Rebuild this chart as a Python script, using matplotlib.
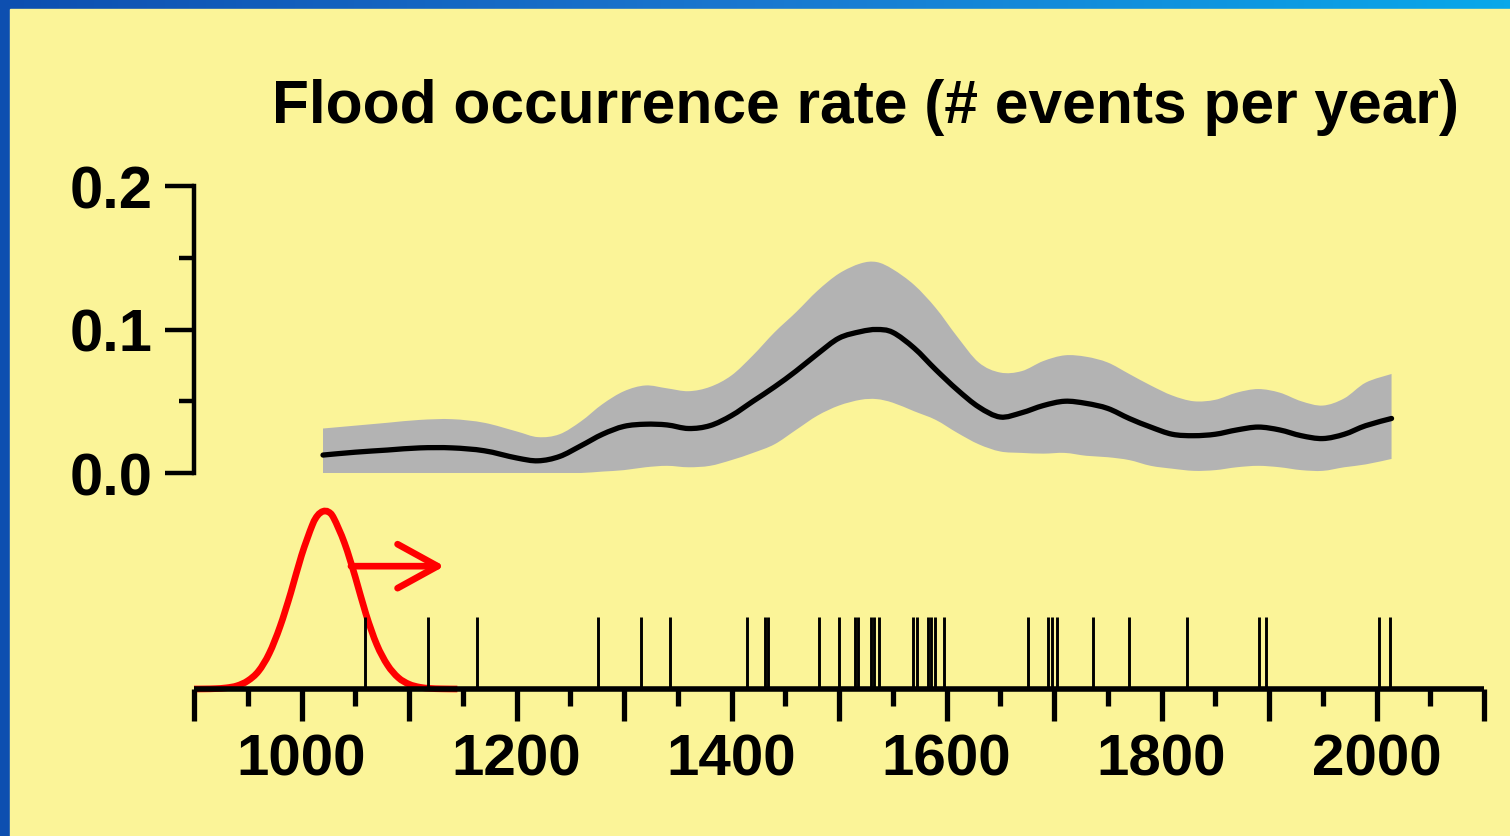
import numpy as np
import matplotlib
matplotlib.use("Agg")
import matplotlib.pyplot as plt
from matplotlib.patches import Rectangle, PathPatch
from matplotlib.path import Path
from matplotlib.colors import LinearSegmentedColormap

# ---------------- data ----------------
years = [1020, 1050, 1080, 1110, 1140, 1170, 1200, 1220, 1240, 1260, 1280, 1300,
         1320, 1340, 1360, 1380, 1400, 1420, 1440, 1460, 1480, 1500, 1520, 1535,
         1550, 1570, 1590, 1610, 1630, 1650, 1670, 1690, 1710, 1730, 1750, 1770,
         1790, 1810, 1830, 1850, 1870, 1890, 1910, 1930, 1950, 1970, 1990, 2014]
rate_mean = [0.0125, 0.0145, 0.016, 0.0175, 0.0175, 0.0155, 0.0105, 0.0085, 0.0115,
             0.019, 0.027, 0.0325, 0.034, 0.0335, 0.031, 0.033, 0.040, 0.050, 0.060,
             0.071, 0.083, 0.094, 0.0985, 0.100, 0.098, 0.087, 0.072, 0.058, 0.046,
             0.039, 0.042, 0.047, 0.050, 0.0485, 0.045, 0.038, 0.032, 0.027, 0.026,
             0.027, 0.030, 0.032, 0.030, 0.026, 0.024, 0.027, 0.033, 0.038]
rate_upper = [0.031, 0.033, 0.035, 0.037, 0.0375, 0.035, 0.029, 0.025, 0.027, 0.036,
              0.048, 0.057, 0.061, 0.059, 0.057, 0.060, 0.068, 0.082, 0.098, 0.112,
              0.127, 0.139, 0.146, 0.147, 0.142, 0.131, 0.115, 0.095, 0.077, 0.070,
              0.071, 0.078, 0.082, 0.081, 0.077, 0.069, 0.061, 0.054, 0.050, 0.051,
              0.056, 0.0585, 0.056, 0.050, 0.047, 0.052, 0.063, 0.069]
rate_lower = [0.0, 0.0, 0.0, 0.0, 0.0, 0.0, 0.0, 0.0, 0.0, 0.0, 0.001, 0.002, 0.004,
              0.005, 0.004, 0.005, 0.009, 0.014, 0.020, 0.030, 0.040, 0.047, 0.051,
              0.0515, 0.049, 0.043, 0.037, 0.028, 0.020, 0.015, 0.014, 0.0135, 0.014,
              0.012, 0.011, 0.009, 0.005, 0.003, 0.0015, 0.002, 0.004, 0.005, 0.004,
              0.002, 0.0015, 0.004, 0.006, 0.0098]

flood_events = [1059, 1118, 1163, 1276, 1316, 1343, 1414, 1431, 1434, 1481, 1500,
                1515, 1518, 1530, 1533, 1537, 1569, 1573, 1583, 1586, 1589, 1598,
                1676, 1694, 1698, 1703, 1736, 1770, 1824, 1891, 1897, 2002, 2013]

kernel_years = [900, 910, 920, 930, 940, 950, 960, 970, 980, 990, 1000, 1010, 1015,
                1020, 1025, 1030, 1040, 1050, 1060, 1070, 1080, 1090, 1100, 1110,
                1120, 1130, 1145]
kernel_height = [0.0, 0.0006, 0.002, 0.0065, 0.018, 0.046, 0.10, 0.20, 0.35, 0.54,
                 0.75, 0.92, 0.975, 0.998, 0.995, 0.96, 0.82, 0.63, 0.42, 0.25, 0.135,
                 0.064, 0.027, 0.010, 0.0033, 0.001, 0.0]

title_text = "Flood occurrence rate (# events per year)"
x_major = list(range(900, 2101, 100))
x_minor = list(range(950, 2100, 100))
x_labels = ["" if y % 200 else str(y) for y in x_major]
y_major = [0.0, 0.1, 0.2]
y_minor = [0.05, 0.15]
y_labels = ["0.0", "0.1", "0.2"]

# ---------------- style ----------------
W, H = 1510, 837
YELLOW = "#fbf498"
GRAY = "#b3b3b3"
FONT = "Liberation Sans"


def smooth_path_codes(xs, ys):
    """Cubic Bezier path passing through the given points (Catmull-Rom)."""
    p = np.column_stack([xs, ys]).astype(float)
    n = len(p)
    verts = [p[0]]
    codes = [Path.MOVETO]
    for i in range(n - 1):
        p0 = p[i - 1] if i > 0 else p[i]
        p1, p2 = p[i], p[i + 1]
        p3 = p[i + 2] if i + 2 < n else p[i + 1]
        c1 = p1 + (p2 - p0) / 6.0
        c2 = p2 - (p3 - p1) / 6.0
        verts += [c1, c2, p2]
        codes += [Path.CURVE4] * 3
    return verts, codes


def smooth_line(ax, xs, ys, **kw):
    v, c = smooth_path_codes(xs, ys)
    patch = PathPatch(Path(v, c), fill=False, **kw)
    ax.add_patch(patch)
    return patch


def smooth_band(ax, xs, lo, hi, **kw):
    v1, c1 = smooth_path_codes(xs, hi)
    v2, c2 = smooth_path_codes(xs[::-1], lo[::-1])
    c2 = [Path.LINETO] + c2[1:]
    v = v1 + v2 + [v1[0]]
    c = c1 + c2 + [Path.CLOSEPOLY]
    patch = PathPatch(Path(v, c), **kw)
    ax.add_patch(patch)
    return patch


fig = plt.figure(figsize=(W / 100, H / 100), dpi=100)

# background: blue frame with yellow panel
bg = fig.add_axes([0, 0, 1, 1], zorder=-10)
grad = np.linspace(0, 1, 256)[None, :]
cmap = LinearSegmentedColormap.from_list("b", ["#0d4fb0", "#1a78d0", "#08a8ea"])
bg.imshow(grad, aspect="auto", cmap=cmap, extent=[0, 1, 0, 1])
bg.add_patch(Rectangle((10 / W, 0), 1, 1 - 10 / H, color=YELLOW, transform=bg.transAxes))
bg.set_xlim(0, 1); bg.set_ylim(0, 1)
bg.axis("off")


def fx(px):
    return px / W


def fy(py):
    return 1 - py / H


left, right = fx(194), fx(1484)

# top axes: rate
ax1 = fig.add_axes([left, fy(474), right - left, fy(187) - fy(474)])
ax1.patch.set_visible(False)
smooth_band(ax1, list(years), list(rate_lower), list(rate_upper),
            facecolor=GRAY, edgecolor="none", lw=0)
smooth_line(ax1, years, rate_mean, edgecolor="black", lw=3.8, capstyle="round")
ax1.set_xlim(900, 2100)
ax1.set_ylim(0, 0.2)
for s in ["top", "right", "bottom"]:
    ax1.spines[s].set_visible(False)
ax1.spines["left"].set_linewidth(3.2)
ax1.set_xticks([])
ax1.set_yticks(y_major)
ax1.set_yticklabels(y_labels)
ax1.set_yticks(y_minor, minor=True)
ax1.tick_params(axis="y", which="major", length=21, width=3.2, pad=9,
                labelsize=43)
ax1.tick_params(axis="y", which="minor", length=11, width=3.2)
for t in ax1.get_yticklabels():
    t.set_fontfamily(FONT); t.set_fontweight("bold")

# bottom axes: events timeline
ax2 = fig.add_axes([left, fy(690), right - left, fy(512) - fy(690)])
ax2.patch.set_visible(False)
ax2.set_xlim(900, 2100)
ax2.set_ylim(0, 1)
ax2.vlines(flood_events, 0, 0.404, color="black", lw=2.1)
kl = smooth_line(ax2, kernel_years, kernel_height, edgecolor="red", lw=4.8,
                 capstyle="butt")
kl.set_clip_on(False)
ax2.annotate("", xy=(1133, 0.69), xytext=(1046, 0.69),
             arrowprops=dict(arrowstyle="->,head_length=0.4,head_width=0.22",
                             color="red", lw=4.8, mutation_scale=72,
                             shrinkA=0, shrinkB=0))
for s in ["top", "right", "left"]:
    ax2.spines[s].set_visible(False)
ax2.spines["bottom"].set_linewidth(4.0)
ax2.spines["bottom"].set_capstyle("butt")
ax2.set_yticks([])
ax2.set_xticks(x_major)
ax2.set_xticklabels(x_labels)
ax2.set_xticks(x_minor, minor=True)
ax2.tick_params(axis="x", which="major", length=23, width=3.8, pad=8, labelsize=42)
ax2.tick_params(axis="x", which="minor", length=12, width=3.8)
for t in ax2.get_xticklabels():
    t.set_fontfamily(FONT); t.set_fontweight("bold")

fig.text(fx(272), fy(123), title_text, fontsize=43.6, fontweight="bold",
         fontfamily=FONT, ha="left", va="baseline")

fig.savefig("out.png", dpi=100, facecolor="#1a6fc4")
